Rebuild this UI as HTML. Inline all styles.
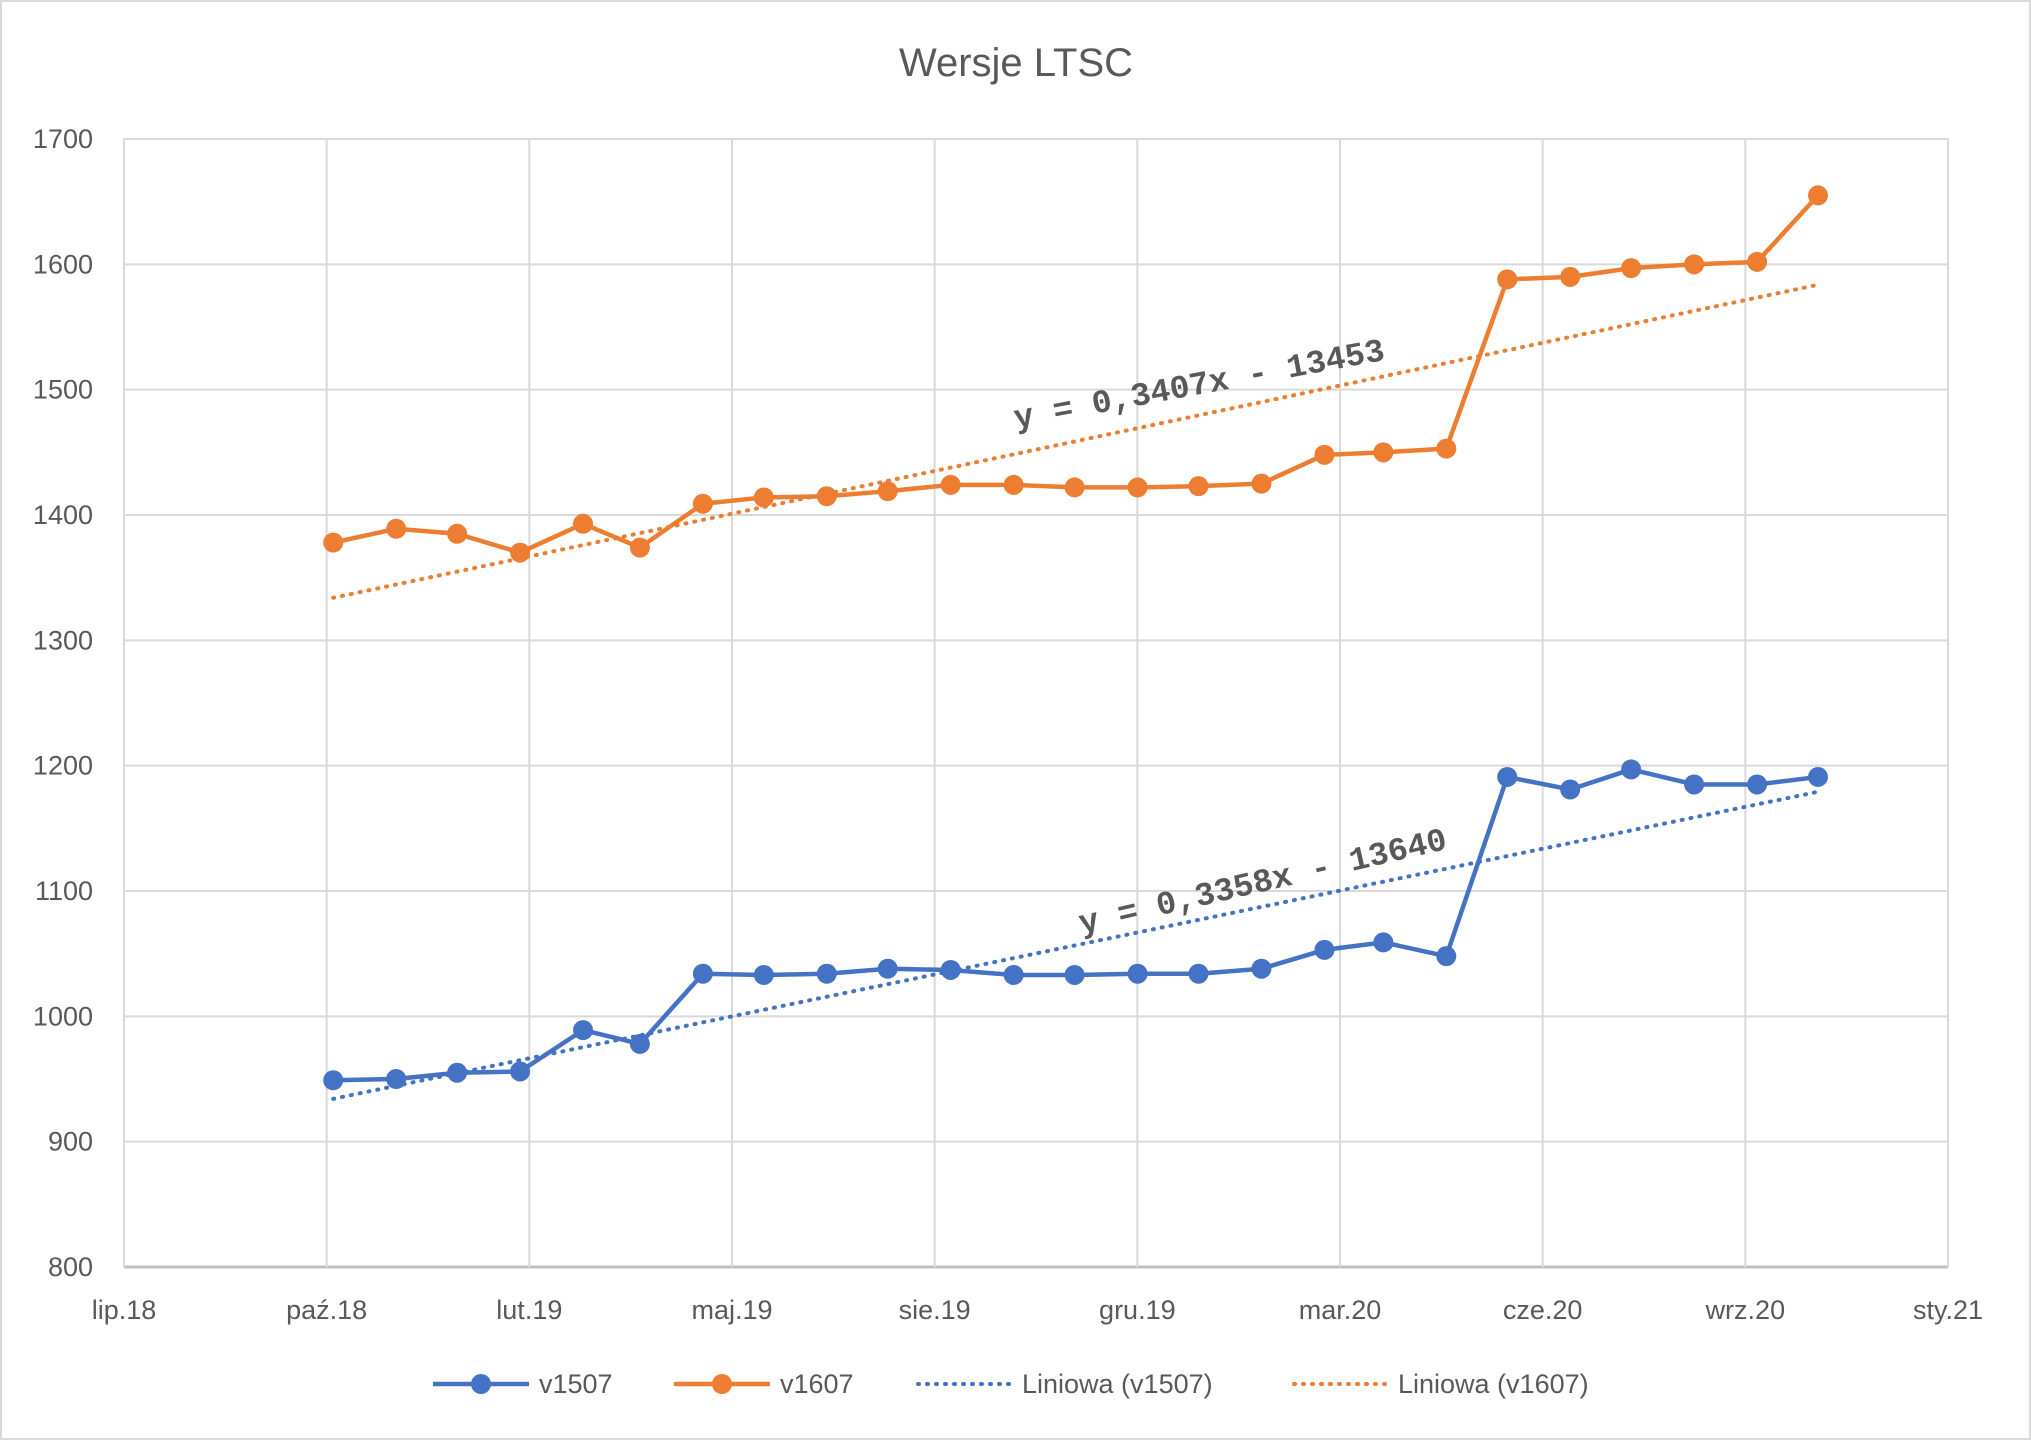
<!DOCTYPE html>
<html><head><meta charset="utf-8"><style>
html,body{margin:0;padding:0;background:#fff}
svg{display:block;font-family:"Liberation Sans",sans-serif}
</style></head><body>
<svg id="chart" width="2031" height="1440" viewBox="0 0 2031 1440">
<rect x="1" y="1" width="2029" height="1438" fill="#fff" stroke="#d9d9d9" stroke-width="2"/>
<text x="1016" y="76" text-anchor="middle" font-size="40" fill="#595959">Wersje LTSC</text>
<g id="grid"></g><g id="trends"></g><g id="series"></g><g id="labels"></g>
<g id="legend"></g>
</svg>
<script>
const xTickLabels = ["lip.18","paź.18","lut.19","maj.19","sie.19","gru.19","mar.20","cze.20","wrz.20","sty.21"];
const yTicks = [800,900,1000,1100,1200,1300,1400,1500,1600,1700];
const dates = ["2018-10-12","2018-11-12","2018-12-12","2019-01-12","2019-02-12","2019-03-12","2019-04-12","2019-05-12","2019-06-12","2019-07-12","2019-08-12","2019-09-12","2019-10-12","2019-11-12","2019-12-12","2020-01-12","2020-02-12","2020-03-12","2020-04-12","2020-05-12","2020-06-12","2020-07-12","2020-08-12","2020-09-12","2020-10-12"];
const v1507 = [949,950,955,956,989,978,1034,1033,1034,1038,1037,1033,1033,1034,1034,1038,1053,1059,1048,1191,1181,1197,1185,1185,1191];
const v1607 = [1378,1389,1385,1370,1393,1374,1409,1414,1415,1419,1424,1424,1422,1422,1423,1425,1448,1450,1453,1588,1590,1597,1600,1602,1655];
const eq1507 = "y = 0,3358x - 13640";
const eq1607 = "y = 0,3407x - 13453";

const NS="http://www.w3.org/2000/svg";
const L=124,R=1948,T=139,B=1267;
const dMin=Date.UTC(2018,6,1)/864e5, dMax=dMin+898;
const yMin=800,yMax=1700;
const day=s=>{const p=s.split('-');return Date.UTC(+p[0],+p[1]-1,+p[2])/864e5;};
const xs=d=>L+(d-dMin)/(dMax-dMin)*(R-L);
const ys=v=>B-(v-yMin)/(yMax-yMin)*(B-T);
function mk(tag,attrs,parent){const e=document.createElementNS(NS,tag);for(const k in attrs)e.setAttribute(k,attrs[k]);parent.appendChild(e);return e;}
const grid=document.getElementById('grid'),labels=document.getElementById('labels');
yTicks.forEach(v=>{
  const ln=mk('line',{x1:L,x2:R,y1:ys(v),y2:ys(v),stroke:v===800?'#bfbfbf':'#d9d9d9','stroke-width':v===800?3:2},grid);
  
  
  const t=mk('text',{x:93,y:ys(v)+9,'text-anchor':'end','font-size':27,fill:'#595959'},labels);
  t.textContent=v;
  
  
});
xTickLabels.forEach((lab,i)=>{
  const x=L+i*(R-L)/(xTickLabels.length-1);
  const ln=mk('line',{x1:x,x2:x,y1:T,y2:B,stroke:'#d9d9d9','stroke-width':2},grid);
  
  
  const t=mk('text',{x:x,y:1319,'text-anchor':'middle','font-size':27,fill:'#595959'},labels);
  t.textContent=lab;
  
  
});
const X=dates.map(day);
function reg(vals){const n=vals.length;let sx=0,sy=0,sxx=0,sxy=0;X.forEach((x,i)=>{sx+=x;sy+=vals[i];sxx+=x*x;sxy+=x*vals[i];});const m=(n*sxy-sx*sy)/(n*sxx-sx*sx);return {m:m,b:(sy-m*sx)/n};}
const trends=document.getElementById('trends'),series=document.getElementById('series');
function draw(vals,color,name){
  const r=reg(vals);const x0=X[0],x1=X[X.length-1];
  const tl=mk('line',{x1:xs(x0),y1:ys(r.m*x0+r.b),x2:xs(x1),y2:ys(r.m*x1+r.b),stroke:color,'stroke-width':4,'stroke-dasharray':'1 8','stroke-linecap':'round'},trends);
  
  
  const pl=mk('polyline',{points:X.map((x,i)=>xs(x)+','+ys(vals[i])).join(' '),fill:'none',stroke:color,'stroke-width':4.5,'stroke-linejoin':'round'},series);
  
  
  X.forEach((x,i)=>{
    const c=mk('circle',{cx:xs(x),cy:ys(vals[i]),r:10,fill:color},series);
    
    
  });
}
draw(v1507,'#4472c4','v1507');
draw(v1607,'#ed7d31','v1607');
function eq(txt,cx,cy,ang,name){
  const t=mk('text',{x:cx,y:cy,'text-anchor':'middle','font-size':33,'font-weight':'bold','font-family':'Liberation Mono, monospace',fill:'#595959',transform:'rotate('+ang+' '+cx+' '+cy+')'},labels);
  t.textContent=txt;
  
  
}
eq(eq1607,1201,394,-10.5,'trend-equation-v1607');
eq(eq1507,1265,891,-13,'trend-equation-v1507');
const lg=document.getElementById('legend');
const items=[{x:433,t:'v1507',c:'#4472c4',d:false},{x:674,t:'v1607',c:'#ed7d31',d:false},{x:916,t:'Liniowa (v1507)',c:'#4472c4',d:true},{x:1292,t:'Liniowa (v1607)',c:'#ed7d31',d:true}];
items.forEach(it=>{
  const g=mk('g',{},lg);
  
  
  const y=1384;
  if(it.d){mk('line',{x1:it.x+2,x2:it.x+96,y1:y,y2:y,stroke:it.c,'stroke-width':4,'stroke-dasharray':'1 8','stroke-linecap':'round'},g);}
  else{mk('line',{x1:it.x,x2:it.x+96,y1:y,y2:y,stroke:it.c,'stroke-width':4.5},g);mk('circle',{cx:it.x+48,cy:y,r:10,fill:it.c},g);}
  const t=mk('text',{x:it.x+106,y:y+9,'font-size':27,fill:'#595959'},g);
  t.textContent=it.t;
});
</script>
</body></html>
